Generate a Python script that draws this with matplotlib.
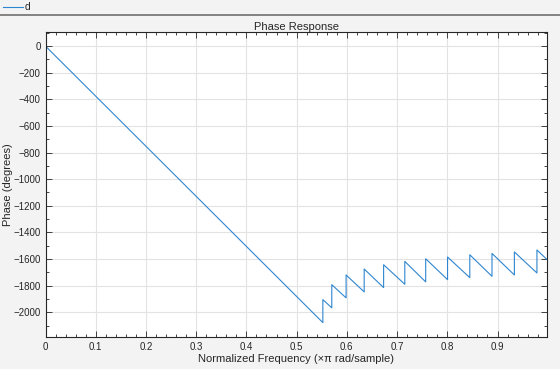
import matplotlib.pyplot as plt
from matplotlib.lines import Line2D
from matplotlib.ticker import MultipleLocator

plt.rcParams['font.family'] = ['Liberation Sans', 'DejaVu Sans']

# vertices of the phase curve (normalized freq, degrees)
freq = [0.0, 0.5522, 0.5522, 0.5700, 0.5700, 0.5985, 0.5985, 0.6345, 0.6345,
        0.6732, 0.6732, 0.7154, 0.7154, 0.7570, 0.7570, 0.8005, 0.8005,
        0.8448, 0.8448, 0.8890, 0.8890, 0.9336, 0.9336, 0.9785, 0.9785, 0.998]
phase = [0, -2078, -1905, -1967, -1793, -1892, -1720, -1847, -1675,
         -1815, -1643, -1790, -1618, -1772, -1598, -1755, -1585,
         -1740, -1568, -1730, -1558, -1720, -1547, -1705, -1532, -1602]

bg = '#f3f3f3'
fig = plt.figure(figsize=(5.6, 3.69), dpi=100, facecolor=bg)
ax = fig.add_axes([0.0813, 0.0875, 0.8950, 0.8250])
ax.plot(freq, phase, color='#2f86d0', lw=0.8)

ax.set_xlim(0, 0.998)
ax.set_ylim(-2184, 104)
ax.xaxis.set_minor_locator(MultipleLocator(0.02))
ax.yaxis.set_major_locator(MultipleLocator(200))
ax.yaxis.set_minor_locator(MultipleLocator(100))
ax.set_xticks([0, 0.1, 0.2, 0.3, 0.4, 0.5, 0.6, 0.7, 0.8, 0.9])
ax.set_xticklabels(['0', '0.1', '0.2', '0.3', '0.4', '0.5', '0.6', '0.7', '0.8', '0.9'])
ax.grid(True, which='major', color='#e3e3e3', lw=0.8)
ax.set_axisbelow(True)
ax.tick_params(which='both', direction='in', top=True, right=True,
               labelsize=7, colors='#262626', width=0.6)
ax.tick_params(which='major', length=4)
ax.tick_params(which='minor', length=2)
for s in ax.spines.values():
    s.set_color('#262626')
    s.set_linewidth(0.8)

ax.set_title('Phase Response', fontsize=8, color='#262626', pad=2)
ax.set_xlabel('Normalized Frequency (\u00d7\u03c0 rad/sample)', fontsize=8, color='#262626')
ax.set_ylabel('Phase (degrees)', fontsize=8, color='#262626')
ax.xaxis.set_label_coords(0.5, -0.058)
ax.yaxis.set_label_coords(-0.064, 0.5)

# legend strip at the top
fig.add_artist(Line2D([3 / 560, 23 / 560], [1 - 7 / 369, 1 - 7 / 369], color='#2f86d0', lw=0.8))
fig.text(25 / 560, 1 - 7 / 369, 'd', fontsize=7.5, va='center', color='#262626')
fig.add_artist(Line2D([0, 1], [1 - 15 / 369, 1 - 15 / 369], color='#707070', lw=1.2))

fig.savefig('out.png', dpi=100, facecolor=bg)
